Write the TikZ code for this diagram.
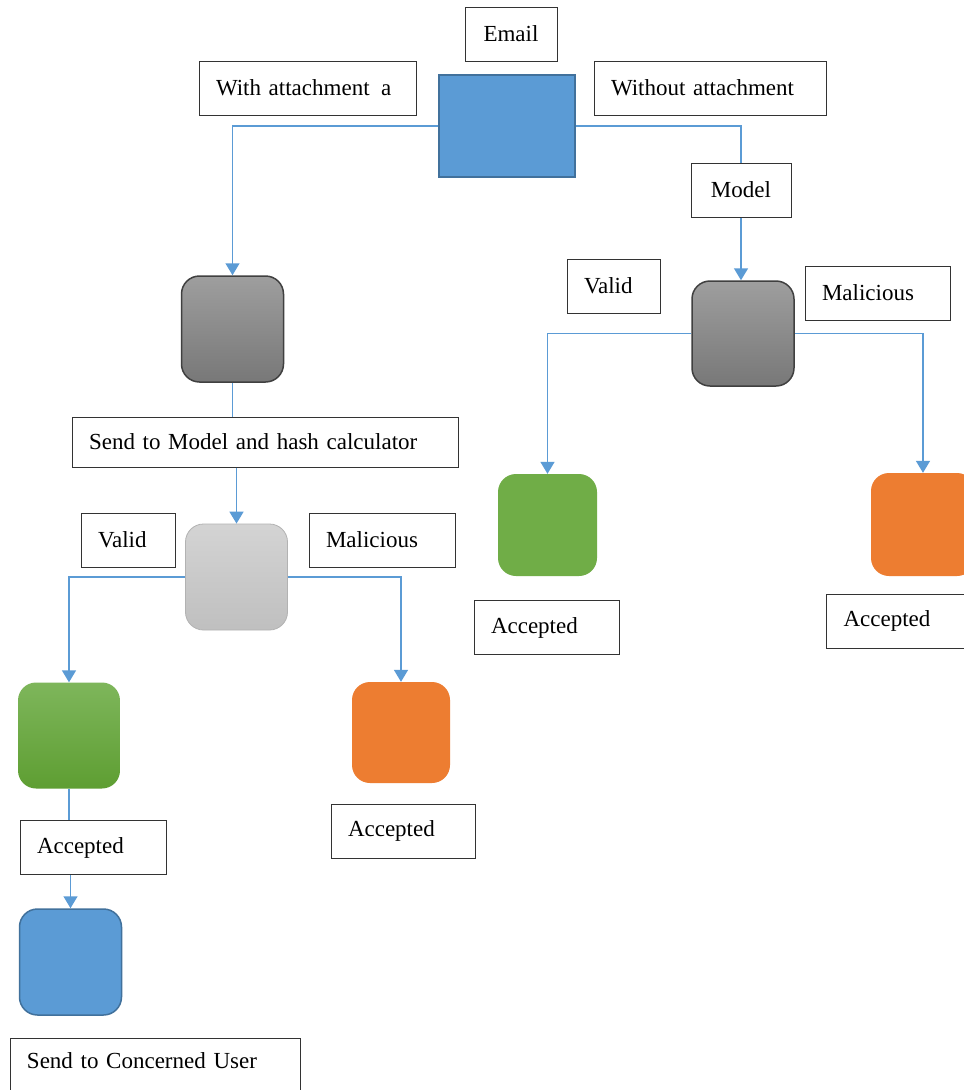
\documentclass[tikz,border=0pt]{standalone}
\usepackage{fontspec}
\setmainfont{Liberation Serif}
\usetikzlibrary{arrows.meta}
\definecolor{mailblue}{HTML}{5B9BD5}
\definecolor{mailedge}{HTML}{41719C}
\definecolor{linkblue}{HTML}{5B9BD5}
\definecolor{okgreen}{HTML}{70AD47}
\definecolor{oktop}{HTML}{7EB65B}
\definecolor{okbottom}{HTML}{5E9E32}
\definecolor{badorange}{HTML}{ED7D31}
\tikzset{
  tag/.style={draw=black!80,line width=1pt,inner xsep=17pt,inner ysep=0pt,
    minimum height=54pt,align=left,font=\fontsize{23}{26}\selectfont},
  blk/.style={rounded corners=18pt,minimum width=102pt,minimum height=106pt},
  darkblk/.style={blk,draw=black!75,line width=1.5pt,top color=black!38,bottom color=black!53},
  lightblk/.style={blk,draw=black!30,line width=0.8pt,top color=black!17,bottom color=black!25},
  link/.style={draw=linkblue,line width=1.5pt,-{Triangle[width=14pt,length=12pt]}},
  wire/.style={draw=linkblue,line width=1.5pt}
}
\begin{document}
\begin{tikzpicture}[x=1pt,y=-1pt]
    \clip (0,0) rectangle (964,1090);
    \fill[white] (0,0) rectangle (964,1090);
    \node[draw=mailedge,fill=mailblue,line width=1.5pt,minimum width=136pt,minimum height=102pt] (mail) at (507,126) {};
    \node[tag,align=center,minimum width=92pt] (mailtag) at (511,34) {Email};
    \node[tag,text width=183pt] (withtag) at (307.5,88) {With attachment \,a};
    \node[tag,text width=198pt] (withouttag) at (710,88) {Without attachment};
    \node[tag,align=center,minimum width=100pt] (model) at (741,190) {Model};
    % with attachment
    \node[darkblk] (check) at (232.5,329) {};
    \node[tag,text width=352pt,minimum height=50pt] (sendtag) at (265,442) {Send to Model and hash calculator};
    \node[lightblk] (hash) at (236.5,577) {};
    \node[tag,text width=60pt] (validA) at (128,540) {Valid};
    \node[tag,text width=112pt] (malA) at (382,540) {Malicious};
    \node[blk,top color=oktop,bottom color=okbottom] (goodA) at (69,735.5) {};
    \node[blk,fill=badorange,minimum width=98pt,minimum height=101pt] (badA) at (401,732.5) {};
    \node[tag,text width=112pt] (accA) at (93,847.5) {Accepted};
    \node[tag,text width=110pt] (accB) at (403,831) {Accepted};
    \node[blk,draw=mailedge,fill=mailblue,line width=1.5pt] (user) at (70.5,962) {};
    \node[tag,text width=256pt,anchor=north,text height=30pt,text depth=30pt] (usertag) at (155,1038) {Send to Concerned User};
    % without attachment
    \node[darkblk,minimum height=105pt] (scan) at (743,333.5) {};
    \node[tag,text width=59pt] (validB) at (613.5,286) {Valid};
    \node[tag,text width=111pt] (malB) at (877.5,293) {Malicious};
    \node[blk,fill=okgreen,minimum width=99pt,minimum height=102pt] (goodB) at (547.5,525) {};
    \node[blk,fill=badorange,minimum width=104pt,minimum height=103pt] (badB) at (923,524.5) {};
    \node[tag,text width=111pt] (accC) at (546.5,627.5) {Accepted};
    \node[tag,text width=109pt] (accD) at (898,621) {Accepted};
    % connectors
    \draw[link] (mail.west) -| (check.north);
    \draw[wire] (mail.east) -| (model.north);
    \draw[link] (model.south) -- (model.south |- scan.north);
    \draw[wire] (check.south) -- (check.south |- sendtag.north);
    \draw[link] (hash.north |- sendtag.south) -- (hash.north);
    \draw[link] (hash.west) -| (goodA.north);
    \draw[link] (hash.east) -| (badA.north);
    \draw[wire] (goodA.south) -- (goodA.south |- accA.north);
    \draw[link] (user.north |- accA.south) -- (user.north);
    \draw[link] (scan.west) -| (goodB.north);
    \draw[link] (scan.east) -| (badB.north);
\end{tikzpicture}
\end{document}
